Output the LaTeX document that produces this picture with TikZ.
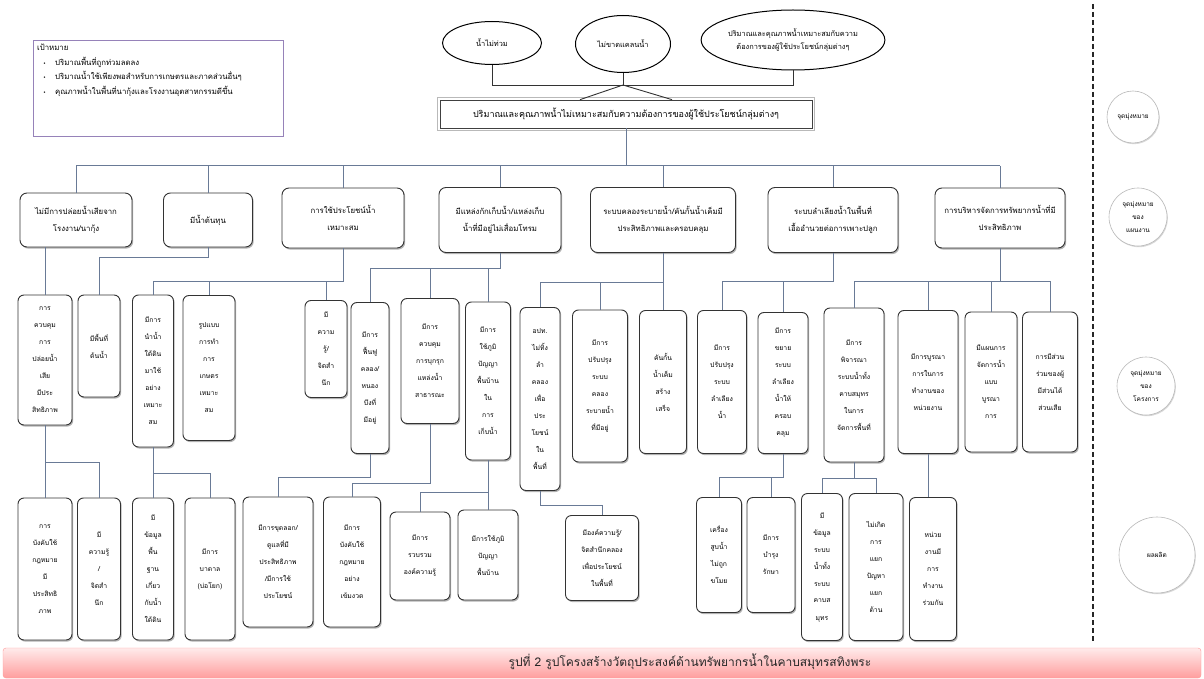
\documentclass[tikz,border=0pt]{standalone}
\usepackage{fontspec}
\setmainfont{Loma}[Script=Thai]
\newfontfamily\dejavu{DejaVu Sans}
\usetikzlibrary{shadows,shapes.geometric}
\definecolor{lnc}{RGB}{105,122,150}
\definecolor{goalc}{RGB}{150,130,185}
\pgfdeclareradialshading{softball}{\pgfpoint{-4bp}{4bp}}{color(0bp)=(white); color(30bp)=(white); color(42bp)=(gray!22); color(50bp)=(gray!55)}
\begin{document}
\begin{tikzpicture}[x=1pt,y=-1pt,
 thai/.style={font=\fontsize{6.8}{17}\selectfont},
 bx/.style={draw=black!80, line width=0.9pt, rounded corners=6pt, fill=white, align=center, inner sep=1pt, thai,
   drop shadow={shadow xshift=1.2pt, shadow yshift=-1.6pt, opacity=0.5, fill=black!60}},
 bxtwo/.style={bx, font=\fontsize{7.8}{17}\selectfont, rounded corners=7pt},
 conn/.style={draw=lnc, line width=1pt},
 topconn/.style={draw=black!80, line width=0.9pt},
 ell/.style={ellipse, draw=black, line width=1pt, align=center, inner sep=0pt, font=\fontsize{7.4}{13}\selectfont},
 circ/.style={circle, draw=gray!55, line width=0.6pt, shading=softball, align=center, inner sep=0pt, font=\fontsize{6.5}{13}\selectfont,
   drop shadow={shadow xshift=0.8pt, shadow yshift=-1.2pt, opacity=0.3, fill=black!50}}
]
\fill[white] (0,0) rectangle (1204,679);
\useasboundingbox (0,0) rectangle (1204,679);

% goal box
\node[draw=goalc, line width=1.2pt, minimum width=250, minimum height=96, anchor=north west] (G) at (33,40) {};
\node[anchor=north west, align=left, inner sep=0pt, font=\fontsize{7.8}{14.5}\selectfont] (Gt) at (37,44)
 {เป้าหมาย\\
  \hspace*{6pt}{\dejavu\fontsize{5}{5}\selectfont •}\hspace{9pt}ปริมาณพื้นที่ถูกท่วมลดลง\\
  \hspace*{6pt}{\dejavu\fontsize{5}{5}\selectfont •}\hspace{9pt}ปริมาณน้ำใช้เพียงพอสำหรับการเกษตรและภาคส่วนอื่นๆ\\
  \hspace*{6pt}{\dejavu\fontsize{5}{5}\selectfont •}\hspace{9pt}คุณภาพน้ำในพื้นที่นากุ้งและโรงงานอุตสาหกรรมดีขึ้น};

% top ellipses
\node[ell, minimum width=99, minimum height=43] (E1) at (492,43) {น้ำไม่ท่วม};
\node[ell, minimum width=95, minimum height=57] (E2) at (623,44) {ไม่ขาดแคลนน้ำ};
\node[ell, minimum width=180, minimum height=60] (E3) at (793,40) {ปริมาณและคุณภาพน้ำเหมาะสมกับความ\\ต้องการของผู้ใช้ประโยชน์กลุ่มต่างๆ};

% main box
\node[draw=black!75, line width=0.7pt, minimum width=372, minimum height=28, font=\fontsize{9}{12}\selectfont] (M) at (626,114)
 {ปริมาณและคุณภาพน้ำไม่เหมาะสมกับความต้องการของผู้ใช้ประโยชน์กลุ่มต่างๆ};
\draw[gray!55, line width=1.6pt] ([shift={(-2.2pt,2.2pt)}]M.north west) rectangle ([shift={(2.2pt,-2.2pt)}]M.south east);

% level 2
\node[bxtwo, minimum width=112, minimum height=54] (L2a) at (76,220) {ไม่มีการปล่อยน้ำเสียจาก\\โรงงาน/นากุ้ง};
\node[bxtwo, minimum width=89, minimum height=54] (L2b) at (208,220) {มีน้ำต้นทุน};
\node[bxtwo, minimum width=122, minimum height=60] (L2c) at (343,218) {การใช้ประโยชน์น้ำ\\เหมาะสม};
\node[bxtwo, minimum width=122, minimum height=65] (L2d) at (500,220) {มีแหล่งกักเก็บน้ำ/แหล่งเก็บ\\น้ำที่มีอยู่ไม่เสื่อมโทรม};
\node[bxtwo, minimum width=145, minimum height=65] (L2e) at (663,220) {ระบบคลองระบายน้ำ/คันกั้นน้ำเค็มมี\\ประสิทธิภาพและครอบคลุม};
\node[bxtwo, minimum width=130, minimum height=65] (L2f) at (833,220) {ระบบลำเลียงน้ำในพื้นที่\\เอื้ออำนวยต่อการเพาะปลูก};
\node[bxtwo, minimum width=130, minimum height=60] (L2g) at (1000,218) {การบริหารจัดการทรัพยากรน้ำที่มี\\ประสิทธิภาพ};

% level 3
\node[bx, minimum width=54, minimum height=130] (L3a) at (45,360) {การ\\ควบคุม\\การ\\ปล่อยน้ำ\\เสีย\\มีประ\\สิทธิภาพ};
\node[bx, minimum width=42, minimum height=102] (L3b) at (99,346) {มีพื้นที่\\ต้นน้ำ};
\node[bx, minimum width=41, minimum height=152] (L3c) at (153,371) {มีการ\\นำน้ำ\\ใต้ดิน\\มาใช้\\อย่าง\\เหมาะ\\สม};
\node[bx, minimum width=52, minimum height=145] (L3d) at (209,368) {รูปแบบ\\การทำ\\การ\\เกษตร\\เหมาะ\\สม};
\node[bx, minimum width=42, minimum height=97] (L3e) at (326,349) {มี\\ความ\\รู้/\\จิตสำ\\นึก};
\node[bx, minimum width=38, minimum height=151] (L3f) at (370,378) {มีการ\\ฟื้นฟู\\คลอง/\\หนอง\\บึงที่\\มีอยู่};
\node[bx, minimum width=58, minimum height=125] (L3g) at (430,361) {มีการ\\ควบคุม\\การบุกรุก\\แหล่งน้ำ\\สาธารณะ};
\node[bx, minimum width=45, minimum height=158] (L3h) at (488,381) {มีการ\\ใช้ภูมิ\\ปัญญา\\พื้นบ้าน\\ใน\\การ\\เก็บน้ำ};
\node[bx, minimum width=40, minimum height=183] (L3i) at (540,399) {อปท.\\ไม่ทิ้ง\\ลำ\\คลอง\\เพื่อ\\ประ\\โยชน์\\ใน\\พื้นที่};
\node[bx, minimum width=55, minimum height=152] (L3j) at (600,386) {มีการ\\ปรับปรุง\\ระบบ\\คลอง\\ระบายน้ำ\\ที่มีอยู่};
\node[bx, minimum width=47, minimum height=143] (L3k) at (663,382) {คันกั้น\\น้ำเค็ม\\สร้าง\\เสร็จ};
\node[bx, minimum width=49, minimum height=143] (L3l) at (722,382) {มีการ\\ปรับปรุง\\ระบบ\\ลำเลียง\\น้ำ};
\node[bx, minimum width=50, minimum height=141] (L3m) at (783,383) {มีการ\\ขยาย\\ระบบ\\ลำเลียง\\น้ำให้\\ครอบ\\คลุม};
\node[bx, minimum width=60, minimum height=154] (L3n) at (854,385) {มีการ\\พิจารณา\\ระบบน้ำทั้ง\\คาบสมุทร\\ในการ\\จัดการพื้นที่};
\node[bx, minimum width=60, minimum height=143] (L3o) at (928,382) {มีการบูรณา\\การในการ\\ทำงานของ\\หน่วยงาน};
\node[bx, minimum width=52, minimum height=140] (L3p) at (991,382) {มีแผนการ\\จัดการน้ำ\\แบบ\\บูรณา\\การ};
\node[bx, minimum width=55, minimum height=140] (L3q) at (1050,382) {การมีส่วน\\ร่วมของผู้\\มีส่วนได้\\ส่วนเสีย};

% level 4
\node[bx, minimum width=54, minimum height=142] (L4a) at (45,569) {การ\\บังคับใช้\\กฎหมาย\\มี\\ประสิทธิ\\ภาพ};
\node[bx, minimum width=43, minimum height=142] (L4b) at (99,569) {มี\\ความรู้\\/\\จิตสำ\\นึก};
\node[bx, minimum width=41, minimum height=142] (L4c) at (153,569) {มี\\ข้อมูล\\พื้น\\ฐาน\\เกี่ยว\\กับน้ำ\\ใต้ดิน};
\node[bx, minimum width=50, minimum height=142] (L4d) at (210,569) {มีการ\\บาดาล\\(บ่อโยก)};
\node[bx, minimum width=70, minimum height=130] (L4e) at (278,562) {มีการขุดลอก/\\ดูแลที่มี\\ประสิทธิภาพ\\/มีการใช้\\ประโยชน์};
\node[bx, minimum width=57, minimum height=130] (L4f) at (352,562) {มีการ\\บังคับใช้\\กฎหมาย\\อย่าง\\เข้มงวด};
\node[bx, minimum width=60, minimum height=88] (L4g) at (420,556) {มีการ\\รวบรวม\\องค์ความรู้};
\node[bx, minimum width=60, minimum height=90] (L4h) at (488,555) {มีการใช้ภูมิ\\ปัญญา\\พื้นบ้าน};
\node[bx, minimum width=73, minimum height=85] (L4i) at (602,558) {มีองค์ความรู้/\\จิตสำนึกคลอง\\เพื่อประโยชน์\\ในพื้นที่};
\node[bx, minimum width=45, minimum height=115] (L4j) at (719,555) {เครื่อง\\สูบน้ำ\\ไม่ถูก\\ขโมย};
\node[bx, minimum width=48, minimum height=115] (L4k) at (771,555) {มีการ\\บำรุง\\รักษา};
\node[bx, minimum width=41, minimum height=147] (L4l) at (822,567) {มี\\ข้อมูล\\ระบบ\\น้ำทั้ง\\ระบบ\\คาบส\\มุทร};
\node[bx, minimum width=54, minimum height=147] (L4m) at (876,567) {ไม่เกิด\\การ\\แยก\\ปัญหา\\แยก\\ด้าน};
\node[bx, minimum width=47, minimum height=143] (L4n) at (933,569) {หน่วย\\งานมี\\การ\\ทำงาน\\ร่วมกัน};

% right circles
\node[circ, minimum size=52] (C1) at (1133,117) {จุดมุ่งหมาย};
\node[circ, minimum size=58] (C2) at (1138,217) {จุดมุ่งหมาย\\ของ\\แผนงาน};
\node[circ, minimum size=58] (C3) at (1146,386) {จุดมุ่งหมาย\\ของ\\โครงการ};
\node[circ, minimum size=76] (C4) at (1157,555) {ผลผลิต};

\draw[black!85, line width=1.1pt, dash pattern=on 5pt off 3pt] (1093,4) -- (1093,642);

% caption
\node[draw=red!40, rounded corners=3pt, top color=red!8, bottom color=red!38, minimum width=1198, minimum height=30] (CAP) at (602,663) {};
\node[font=\fontsize{12}{14}\selectfont, text=black!85] (CAPt) at (690,662)
 {รูปที่ 2 รูปโครงสร้างวัตถุประสงค์ด้านทรัพยากรน้ำในคาบสมุทรสทิงพระ};

% top connectors
\coordinate (J) at (E2.south |- 0,85);
\draw[topconn] (E1.south) -- (E1.south |- 0,85) -- (E3.south |- 0,85) -- (E3.south);
\draw[topconn] (E2.south) -- (J);
\draw[topconn] (J) -- (M.north -| 580,0);
\draw[topconn] (J) -- (M.north -| 672,0);

% main to level 2
\draw[conn] (M.south) -- (M.south |- 0,166);
\draw[conn] (L2a.north |- 0,166) -- (L2g.north |- 0,166);
\foreach \n in {L2a,L2b,L2c,L2d,L2e,L2f,L2g} \draw[conn] (\n.north |- 0,166) -- (\n.north);

% level 2 to level 3
\draw[conn] (L2a.south -| L3a.north) -- (L3a.north);
\draw[conn] (L2b.south) -- (L2b.south |- 0,257) -| (L3b.north);
\draw[conn] (L2c.south) -- (L2c.south |- 0,281) -| (L3c.north);
\draw[conn] (L3d.north |- 0,281) -- (L3d.north);
\draw[conn] (L3e.north |- 0,281) -- (L3e.north);
\draw[conn] (L2d.south) -- (L2d.south |- 0,268) -| (L3f.north);
\draw[conn] (L3g.north |- 0,268) -- (L3g.north);
\draw[conn] (L3h.north |- 0,268) -- (L3h.north);
\draw[conn] (L2e.south) -- (L3k.north);
\draw[conn] (L2e.south |- 0,282) -| (L3i.north);
\draw[conn] (L3j.north |- 0,282) -- (L3j.north);
\draw[conn] (L2f.south) -- (L2f.south |- 0,281) -| (L3l.north);
\draw[conn] (L3m.north |- 0,281) -- (L3m.north);
\draw[conn] (L2g.south) -- (L2g.south |- 0,281);
\draw[conn] (L3n.north |- 0,281) -- (L3q.north |- 0,281);
\foreach \n in {L3n,L3o,L3p,L3q} \draw[conn] (\n.north |- 0,281) -- (\n.north);

% level 3 to level 4
\draw[conn] (L3a.south) -- (L4a.north);
\draw[conn] (L3a.south |- 0,462) -| (L4b.north);
\draw[conn] (L3c.south) -- (L4c.north);
\draw[conn] (L3c.south |- 0,473) -| (L4d.north);
\draw[conn] (L3f.south) -- (L3f.south |- 0,477) -| (L4e.north);
\draw[conn] (L3g.south) -- (L3g.south |- 0,483) -| (L4f.north);
\draw[conn] (L3h.south) -- (L4h.north);
\draw[conn] (L3h.south |- 0,492) -| (L4g.north);
\draw[conn] (L3i.south) -- (L3i.south |- 0,505) -| (L4i.north);
\draw[conn] (L3m.south) -- (L3m.south |- 0,477) -| (L4j.north);
\draw[conn] (L4k.north |- 0,477) -- (L4k.north);
\draw[conn] (L3n.south) -- (L3n.south |- 0,478);
\draw[conn] (L4l.north |- 0,478) -- (L4m.north |- 0,478);
\draw[conn] (L4l.north |- 0,478) -- (L4l.north);
\draw[conn] (L4m.north |- 0,478) -- (L4m.north);
\draw[conn] (L3o.south) -- (L3o.south |- L4n.north);
\end{tikzpicture}
\end{document}
